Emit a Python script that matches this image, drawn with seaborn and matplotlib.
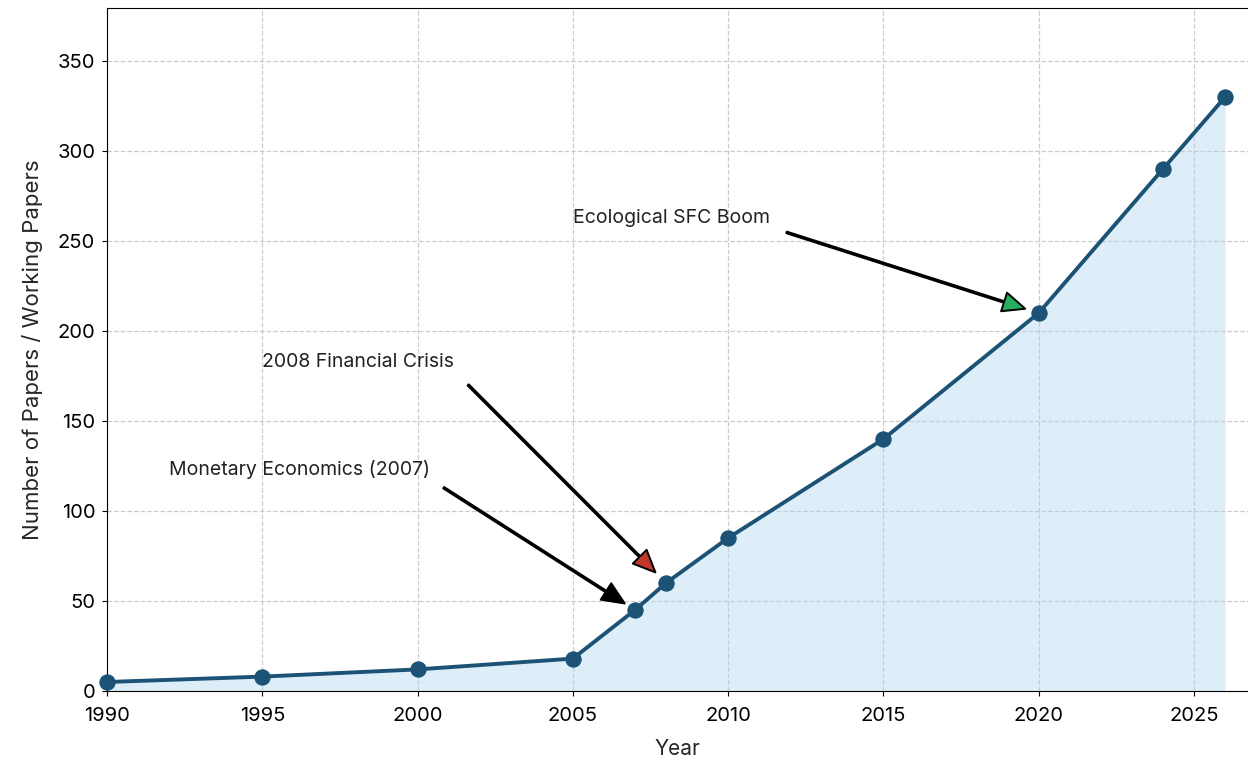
import numpy as np
import pandas as pd
import matplotlib
matplotlib.use("Agg")
import matplotlib.pyplot as plt
import seaborn as sns

# data
years = [1990, 1995, 2000, 2005, 2007, 2008, 2010, 2015, 2020, 2024, 2026]
papers = [5, 8, 12, 18, 45, 60, 85, 140, 210, 290, 330]

# annotations: label, target year, target value, text x, text y, head colour
ann_labels = ["Monetary Economics (2007)", "2008 Financial Crisis", "Ecological SFC Boom"]
ann_x = [2007, 2008, 2020]
ann_y = [45, 60, 210]
ann_text_x = [1992, 1995, 2005]
ann_text_y = [120, 180, 260]
ann_colors = ["black", "#c0392b", "#27ae60"]

line_color = "#1b5276"
fill_color = "#aed6f1"

sns.set_style("ticks")
plt.rcParams["font.family"] = ["Inter", "DejaVu Sans"]

df = pd.DataFrame({"Year": years, "Papers": papers})

fig = plt.figure(figsize=(12.48, 7.61), dpi=100)
ax = fig.add_axes([107 / 1248, 70 / 761, 1 - 107 / 1248, (691 - 8) / 761])

ax.fill_between(df["Year"], df["Papers"], color=fill_color, alpha=0.4, lw=0)
sns.lineplot(data=df, x="Year", y="Papers", ax=ax, color=line_color,
             linewidth=2.8, marker="o", markersize=11,
             markeredgecolor=line_color, clip_on=False, zorder=3)

for lab, x, y, tx, ty, c in zip(ann_labels, ann_x, ann_y, ann_text_x,
                                ann_text_y, ann_colors):
    ax.annotate(lab, xy=(x, y), xytext=(tx, ty), fontsize=14, color="#222222",
                arrowprops=dict(facecolor=c, edgecolor="black", shrink=0.05,
                                width=1.2, headwidth=14, headlength=16,
                                linewidth=1.4))

ax.set_xlim(1990, 2026.74)
ax.set_ylim(0, max(papers) * 1.15)
ax.set_xticks([1990, 1995, 2000, 2005, 2010, 2015, 2020, 2025])
ax.set_yticks(np.arange(0, 351, 50))
ax.grid(True, linestyle="--", color="#cccccc", linewidth=0.9)
ax.set_axisbelow(True)
ax.spines["right"].set_visible(False)
for s in ["left", "bottom", "top"]:
    ax.spines[s].set_color("black")
ax.tick_params(labelsize=14.5, colors="black")
ax.tick_params(axis="x", pad=8)
ax.tick_params(axis="y", pad=5)
ax.set_xlabel("Year", fontsize=15, labelpad=10)
ax.set_ylabel("Number of Papers / Working Papers", fontsize=16, labelpad=10)

fig.savefig("out.png", dpi=100)
